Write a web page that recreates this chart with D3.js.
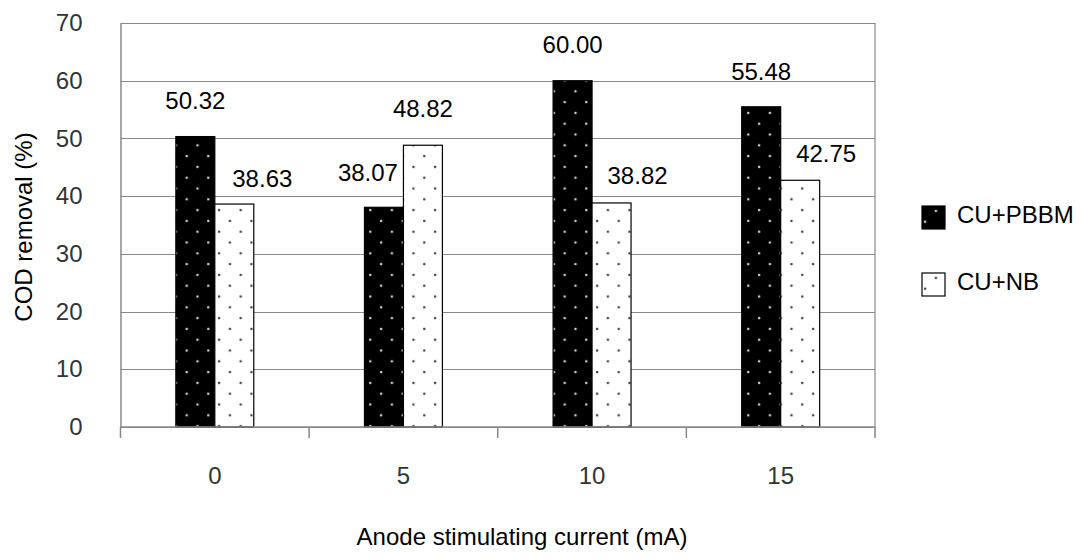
<!DOCTYPE html>
<html>
<head>
<meta charset="utf-8">
<script src="https://cdn.jsdelivr.net/npm/d3@7"></script>
<style>
  html, body { margin: 0; padding: 0; background: #fff; }
  svg { display: block; font-family: "Liberation Sans", Arial, sans-serif; }
</style>
</head>
<body>
<svg id="chart" width="1082" height="559"></svg>
<script>
// ---- data ----
const categories = ["0", "5", "10", "15"];
const seriesNames = ["CU+PBBM", "CU+NB"];
const pbbmValues = [50.32, 38.07, 60.00, 55.48];
const nbValues = [38.63, 48.82, 38.82, 42.75];
const yTickValues = [0, 10, 20, 30, 40, 50, 60, 70];
const xAxisTitle = "Anode stimulating current (mA)";
const yAxisTitle = "COD removal (%)";

// ---- layout (label nudges, in px) ----
const labelNudge = {
  "CU+PBBM": [[0, -28], [-16, -26], [0, -28], [0, -27]],
  "CU+NB":   [[28, -17], [0, -28], [26, -19], [26, -18]]
};

const svg = d3.select("#chart");
const plot = { left: 120.5, right: 875, top: 23, bottom: 427 };

const x = d3.scaleBand().domain(categories).range([plot.left, plot.right]).padding(0);
const xs = d3.scaleBand().domain(seriesNames).range([0, x.bandwidth()])
  .paddingInner(0).paddingOuter(1.42);
const y = d3.scaleLinear().domain([0, 70]).range([plot.bottom, plot.top]);

// patterns
const defs = svg.append("defs");
const tile = 21.6;
function makePattern(id, bg, dot) {
  const p = defs.append("pattern").attr("id", id)
    .attr("patternUnits", "userSpaceOnUse")
    .attr("width", tile).attr("height", tile);
  p.append("rect").attr("width", tile).attr("height", tile).attr("fill", bg);
  [[13.9, 4.9], [3.1, 15.7]].forEach(([cx, cy]) => {
    p.append("circle").attr("cx", cx).attr("cy", cy).attr("r", 1.3).attr("fill", dot);
  });
}
makePattern("patBlack", "#000", "#d0d0d0");
makePattern("patWhite", "#fff", "#444");

const series = [
  { name: "CU+PBBM", values: pbbmValues, fill: "url(#patBlack)" },
  { name: "CU+NB", values: nbValues, fill: "url(#patWhite)" }
];

const gridColor = "#888";

// gridlines
svg.append("g").selectAll("line").data(yTickValues).join("line")
  .attr("x1", plot.left).attr("x2", plot.right)
  .attr("y1", d => Math.round(y(d)) + 0.5).attr("y2", d => Math.round(y(d)) + 0.5)
  .attr("stroke", gridColor).attr("stroke-width", 1.2);

// plot border right
svg.append("line")
  .attr("x1", plot.right).attr("x2", plot.right)
  .attr("y1", plot.top).attr("y2", plot.bottom)
  .attr("stroke", gridColor).attr("stroke-width", 1.2);

// bars
series.forEach(s => {
  svg.append("g").selectAll("rect").data(s.values).join("rect")
    .attr("x", (d, i) => x(categories[i]) + xs(s.name))
    .attr("y", d => y(d))
    .attr("width", xs.bandwidth())
    .attr("height", d => y(0) - y(d))
    .attr("fill", s.fill)
    .attr("stroke", "#000").attr("stroke-width", 1.2);
});

// y axis
const yAxis = d3.axisLeft(y).tickValues(yTickValues).tickSize(0).tickPadding(38)
  .tickFormat(d3.format("d"));
const gy = svg.append("g").attr("transform", `translate(${plot.left},0)`).call(yAxis);
gy.select(".domain").attr("stroke", gridColor).attr("stroke-width", 1.5);
gy.selectAll("text").attr("font-size", 24).attr("fill", "#333")
  .attr("font-family", "Liberation Sans, Arial, sans-serif");

// x axis
const xAxis = d3.axisBottom(x).tickSize(0).tickPadding(40);
const gx = svg.append("g").attr("transform", `translate(0,${plot.bottom})`).call(xAxis);
gx.select(".domain").remove();
gx.selectAll("text").attr("font-size", 24).attr("fill", "#333")
  .attr("font-family", "Liberation Sans, Arial, sans-serif");
// tick marks at band boundaries
const boundaries = categories.map(c => x(c)).concat([plot.right]);
svg.append("g").selectAll("line").data(boundaries).join("line")
  .attr("x1", d => d).attr("x2", d => d)
  .attr("y1", plot.bottom).attr("y2", plot.bottom + 11)
  .attr("stroke", gridColor).attr("stroke-width", 1.5);
svg.append("line").attr("x1", plot.left).attr("x2", plot.right)
  .attr("y1", plot.bottom).attr("y2", plot.bottom)
  .attr("stroke", gridColor).attr("stroke-width", 1.5);

// data labels
series.forEach(s => {
  svg.append("g").selectAll("text").data(s.values).join("text")
    .attr("x", (d, i) => x(categories[i]) + xs(s.name) + xs.bandwidth() / 2 + labelNudge[s.name][i][0])
    .attr("y", (d, i) => y(d) + labelNudge[s.name][i][1])
    .attr("text-anchor", "middle")
    .attr("font-size", 24).attr("fill", "#000")
    .text(d => d3.format(".2f")(d));
});

// axis titles
svg.append("text").attr("x", 522).attr("y", 545).attr("text-anchor", "middle")
  .attr("font-size", 24).attr("fill", "#000").text(xAxisTitle);
svg.append("text").attr("transform", "translate(32,227) rotate(-90)")
  .attr("text-anchor", "middle").attr("font-size", 24).attr("fill", "#000").text(yAxisTitle);

// legend
const legend = svg.append("g").selectAll("g").data(series).join("g")
  .attr("transform", (d, i) => `translate(922,${206 + i * 67})`);
legend.append("rect").attr("width", 23).attr("height", 23)
  .attr("fill", d => d.fill).attr("stroke", "#000").attr("stroke-width", 1.2);
legend.append("text").attr("x", 35).attr("y", 17).attr("font-size", 24).attr("fill", "#000")
  .text(d => d.name);
</script>
</body>
</html>
